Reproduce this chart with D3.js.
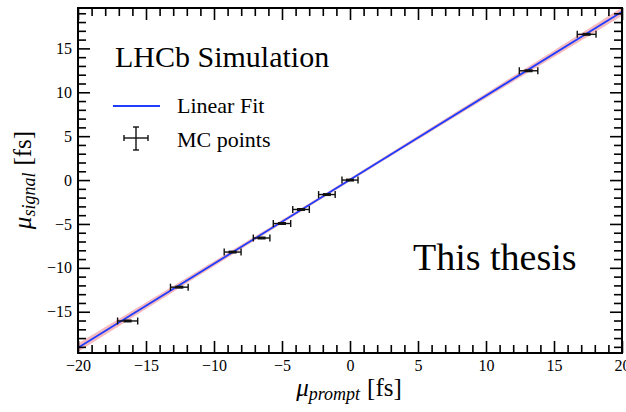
<!DOCTYPE html>
<html>
<head>
<meta charset="utf-8">
<script src="https://cdn.jsdelivr.net/npm/d3@7"></script>
<style>
  html, body { margin: 0; padding: 0; background: #fff; }
  svg { display: block; }
  text { font-family: "Liberation Serif", "Times New Roman", serif; fill: #000; }
</style>
</head>
<body>
<svg id="chart" width="626" height="412"></svg>
<script>
// MC calibration points: prompt vs signal mean (fs)
const promptMu  = [-16.35, -12.55, -8.63, -6.50, -5.00, -3.60, -1.70, 0.00, 13.13, 17.40];
const signalMu  = [-16.05, -12.20, -8.20, -6.60, -4.95, -3.35, -1.65, 0.00, 12.45, 16.60];
const promptErr = [0.74, 0.65, 0.62, 0.61, 0.64, 0.61, 0.61, 0.59, 0.68, 0.69];

// Linear fit y = slope * x + offset, with its uncertainty band
const fitSlope = 0.957;
const fitOffset = 0.04;
const fitSlopeErr = 0.022;
const fitOffsetErr = 0.18;

const xMajorTicks = [-20, -15, -10, -5, 0, 5, 10, 15, 20];
const yMajorTicks = [-15, -10, -5, 0, 5, 10, 15];
const xMinorTicks = d3.range(-20, 21, 1);
const yMinorTicks = d3.range(-19, 20, 1);

const svg = d3.select("#chart");
const L = 78, R = 622, T = 8, B = 353;

const x = d3.scaleLinear().domain([-20, 20]).range([L, R]);
const y = d3.scaleLinear().domain([-19.7, 19.6]).range([B, T]);
const fmt = d => d < 0 ? "\u2212" + Math.abs(d) : String(d);

// fit band
const bandX = d3.range(-20, 20.01, 0.5);
const halfW = v => Math.sqrt(fitOffsetErr * fitOffsetErr + (fitSlopeErr * v) * (fitSlopeErr * v));
svg.append("clipPath").attr("id", "plotClip")
  .append("rect").attr("x", L).attr("y", T).attr("width", R - L).attr("height", B - T);
const plot = svg.append("g").attr("clip-path", "url(#plotClip)");

plot.append("path")
  .datum(bandX)
  .attr("d", d3.area()
    .x(v => x(v))
    .y0(v => y(fitSlope * v + fitOffset - halfW(v)))
    .y1(v => y(fitSlope * v + fitOffset + halfW(v))))
  .attr("fill", "#f3a3a8")
  .attr("opacity", 0.75);

plot.append("path")
  .datum([-20, 20])
  .attr("d", d3.line().x(v => x(v)).y(v => y(fitSlope * v + fitOffset)))
  .attr("stroke", "#1f3cff")
  .attr("stroke-width", 1.8)
  .attr("fill", "none");

// MC points with horizontal error bars
const pts = promptMu.map((v, i) => ({ x: v, y: signalMu[i], ex: promptErr[i] }));
const g = plot.append("g").attr("stroke", "#111").attr("fill", "none");
pts.forEach(p => {
  const cy = y(p.y);
  g.append("line").attr("x1", x(p.x - p.ex)).attr("x2", x(p.x + p.ex))
    .attr("y1", cy).attr("y2", cy).attr("stroke-width", 1.4);
  [p.x - p.ex, p.x + p.ex].forEach(e => {
    g.append("line").attr("x1", x(e)).attr("x2", x(e))
      .attr("y1", cy - 3.5).attr("y2", cy + 3.5).attr("stroke-width", 1.4);
  });
  g.append("line").attr("x1", x(p.x) - 4).attr("x2", x(p.x) + 4)
    .attr("y1", cy).attr("y2", cy).attr("stroke-width", 3);
});

// axes with inward ticks on all four sides
function drawAxis(axisFn, scale, major, minor, transform, labels) {
  const gMin = svg.append("g").attr("transform", transform)
    .call(axisFn(scale).tickValues(minor.filter(v => !major.includes(v))).tickSize(-8).tickFormat(""));
  const gMaj = svg.append("g").attr("transform", transform)
    .call(axisFn(scale).tickValues(major).tickSize(-12).tickPadding(labels ? 18 : 0)
      .tickFormat(labels ? fmt : ""));
  [gMin, gMaj].forEach(a => {
    a.select(".domain").remove();
    a.selectAll(".tick line").attr("stroke", "#000").attr("stroke-width", 1.6);
  });
  gMaj.selectAll("text").attr("font-size", 16).attr("font-family", "Liberation Serif, serif");
  return gMaj;
}
const xb = drawAxis(d3.axisBottom, x, xMajorTicks, xMinorTicks, `translate(0,${B})`, true);
drawAxis(d3.axisTop, x, xMajorTicks, xMinorTicks, `translate(0,${T})`, false);
const yl = drawAxis(d3.axisLeft, y, yMajorTicks, yMinorTicks, `translate(${L},0)`, true);
drawAxis(d3.axisRight, y, yMajorTicks, yMinorTicks, `translate(${R},0)`, false);
xb.selectAll("text").attr("dy", "0.35em").attr("y", 12);
yl.selectAll("text").attr("x", -6);

// frame
svg.append("rect").attr("x", L).attr("y", T).attr("width", R - L).attr("height", B - T)
  .attr("fill", "none").attr("stroke", "#000").attr("stroke-width", 2);

// axis titles
const xt = svg.append("text").attr("x", 349).attr("y", 396).attr("text-anchor", "middle").attr("font-size", 25);
xt.append("tspan").attr("font-style", "italic").text("\u03bc");
xt.append("tspan").attr("font-style", "italic").attr("font-size", 18).attr("dy", 4).text("prompt");
xt.append("tspan").attr("dy", -4).attr("dx", 7).text("[fs]");

const yt = svg.append("text").attr("transform", "translate(31,180) rotate(-90)")
  .attr("text-anchor", "middle").attr("font-size", 25);
yt.append("tspan").attr("font-style", "italic").text("\u03bc");
yt.append("tspan").attr("font-style", "italic").attr("font-size", 18).attr("dy", 4).text("signal");
yt.append("tspan").attr("dy", -4).attr("dx", 7).text("[fs]");

// legend
svg.append("text").attr("x", 115).attr("y", 67).attr("font-size", 30).text("LHCb Simulation");
svg.append("line").attr("x1", 113).attr("x2", 160).attr("y1", 106).attr("y2", 106)
  .attr("stroke", "#1f3cff").attr("stroke-width", 2);
svg.append("text").attr("x", 177).attr("y", 113).attr("font-size", 22).text("Linear Fit");
const lg = svg.append("g").attr("stroke", "#111").attr("stroke-width", 1.4);
lg.append("line").attr("x1", 124).attr("x2", 148).attr("y1", 138).attr("y2", 138);
lg.append("line").attr("x1", 136).attr("x2", 136).attr("y1", 127).attr("y2", 150);
lg.append("line").attr("x1", 124).attr("x2", 124).attr("y1", 135).attr("y2", 141);
lg.append("line").attr("x1", 148).attr("x2", 148).attr("y1", 135).attr("y2", 141);
lg.append("line").attr("x1", 133).attr("x2", 139).attr("y1", 127).attr("y2", 127);
lg.append("line").attr("x1", 133).attr("x2", 139).attr("y1", 150).attr("y2", 150);
svg.append("text").attr("x", 177).attr("y", 147).attr("font-size", 22).text("MC points");

svg.append("text").attr("x", 413).attr("y", 270).attr("font-size", 38).text("This thesis");
</script>
</body>
</html>
